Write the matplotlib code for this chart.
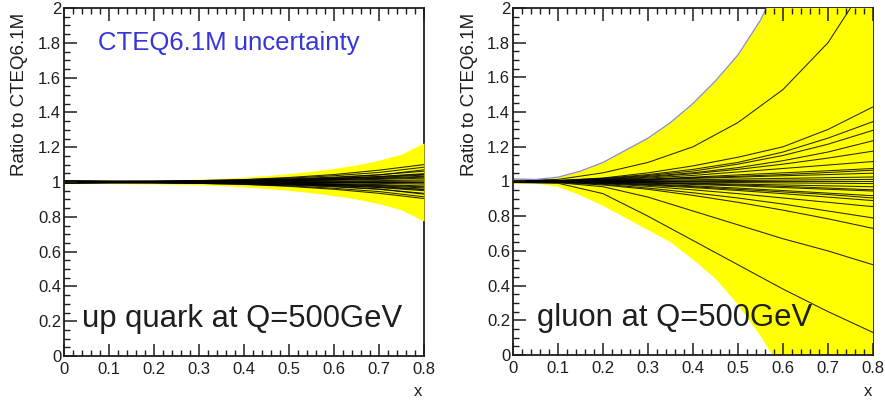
import numpy as np
import matplotlib.pyplot as plt
from matplotlib.ticker import MultipleLocator

plt.rcParams['font.family'] = ['Liberation Sans', 'DejaVu Sans']

# envelope grid (fine) and member-curve grid (coarse)
x_env = [0.0, 0.05, 0.1, 0.15, 0.2, 0.25, 0.3, 0.35, 0.4,
         0.45, 0.5, 0.55, 0.6, 0.65, 0.7, 0.75, 0.8]
x_set = [0.0, 0.1, 0.2, 0.3, 0.4, 0.5, 0.6, 0.7, 0.8]

# up quark, Q=500 GeV
up_hi = [1.010, 1.009, 1.009, 1.010, 1.011, 1.013, 1.016, 1.021, 1.028,
         1.037, 1.048, 1.062, 1.078, 1.098, 1.125, 1.160, 1.225]
up_lo = [0.990, 0.991, 0.991, 0.990, 0.989, 0.987, 0.984, 0.979, 0.972,
         0.963, 0.952, 0.938, 0.922, 0.902, 0.875, 0.840, 0.775]
up_sets = [
    [1.006, 1.004, 1.005, 1.008, 1.013, 1.022, 1.036, 1.055, 1.085],
    [0.994, 0.996, 0.995, 0.992, 0.987, 0.978, 0.964, 0.945, 0.915],
    [1.005, 1.004, 1.004, 1.006, 1.010, 1.018, 1.028, 1.042, 1.062],
    [0.995, 0.996, 0.996, 0.994, 0.990, 0.982, 0.972, 0.958, 0.935],
    [1.004, 1.003, 1.003, 1.005, 1.007, 1.012, 1.020, 1.032, 1.048],
    [0.996, 0.997, 0.997, 0.995, 0.993, 0.988, 0.980, 0.968, 0.950],
    [1.003, 1.002, 1.002, 1.003, 1.005, 1.009, 1.014, 1.022, 1.033],
    [0.997, 0.998, 0.998, 0.997, 0.995, 0.991, 0.986, 0.978, 0.966],
    [1.002, 1.002, 1.002, 1.002, 1.003, 1.006, 1.010, 1.015, 1.022],
    [0.998, 0.998, 0.998, 0.998, 0.997, 0.994, 0.990, 0.985, 0.977],
    [1.001, 1.001, 1.001, 1.001, 1.002, 1.003, 1.005, 1.008, 1.012],
    [0.999, 0.999, 0.999, 0.999, 0.998, 0.997, 0.995, 0.992, 0.988],
    [1.001, 1.000, 1.000, 1.000, 1.001, 1.001, 1.002, 1.003, 1.005],
    [0.999, 1.000, 1.000, 1.000, 0.999, 0.999, 0.998, 0.997, 0.995],
    [1.000, 1.000, 1.000, 1.000, 1.000, 1.000, 1.000, 1.000, 1.000],
    [1.005, 1.003, 1.003, 1.005, 1.009, 1.015, 1.025, 1.040, 1.070],
    [0.995, 0.997, 0.997, 0.995, 0.991, 0.985, 0.975, 0.960, 0.930],
    [1.004, 1.003, 1.002, 1.004, 1.006, 1.011, 1.018, 1.026, 1.040],
    [0.996, 0.997, 0.998, 0.996, 0.994, 0.989, 0.983, 0.974, 0.958],
    [1.002, 1.001, 1.001, 1.002, 1.004, 1.008, 1.013, 1.019, 1.028],
    [0.998, 0.999, 0.999, 0.998, 0.996, 0.992, 0.987, 0.981, 0.972],
    [1.007, 1.005, 1.005, 1.008, 1.014, 1.026, 1.043, 1.068, 1.100],
    [0.993, 0.995, 0.995, 0.992, 0.986, 0.975, 0.958, 0.935, 0.905],
    [1.003, 1.002, 1.003, 1.004, 1.008, 1.013, 1.021, 1.030, 1.044],
    [0.997, 0.998, 0.997, 0.996, 0.992, 0.987, 0.979, 0.970, 0.956],
]

# gluon, Q=500 GeV
gl_hi = [1.015, 1.012, 1.025, 1.060, 1.110, 1.180, 1.250, 1.340, 1.450,
         1.580, 1.730, 1.930, 2.200, 2.500, 2.850, 3.250, 3.700]
gl_lo = [0.985, 0.988, 0.970, 0.920, 0.860, 0.790, 0.720, 0.650, 0.550,
         0.440, 0.290, 0.110, -0.100, -0.300, -0.500, -0.700, -0.900]
gl_sets = [
    [1.006, 1.012, 1.050, 1.110, 1.200, 1.340, 1.530, 1.800, 2.200],
    [1.005, 1.006, 1.020, 1.050, 1.090, 1.140, 1.200, 1.300, 1.430],
    [1.004, 1.005, 1.018, 1.040, 1.070, 1.110, 1.170, 1.250, 1.345],
    [1.004, 1.004, 1.015, 1.035, 1.060, 1.100, 1.150, 1.215, 1.295],
    [1.003, 1.004, 1.012, 1.030, 1.050, 1.080, 1.120, 1.170, 1.235],
    [1.003, 1.003, 1.010, 1.025, 1.045, 1.070, 1.100, 1.135, 1.175],
    [1.002, 1.003, 1.008, 1.020, 1.035, 1.055, 1.075, 1.095, 1.115],
    [1.002, 1.002, 1.006, 1.014, 1.025, 1.038, 1.050, 1.062, 1.075],
    [1.001, 1.002, 1.004, 1.010, 1.018, 1.025, 1.033, 1.040, 1.048],
    [1.001, 1.001, 1.003, 1.006, 1.010, 1.014, 1.018, 1.022, 1.026],
    [1.000, 1.001, 1.001, 1.002, 1.004, 1.006, 1.008, 1.010, 1.012],
    [1.000, 1.000, 1.000, 1.000, 1.000, 1.000, 1.000, 1.000, 1.000],
    [1.000, 0.999, 0.999, 0.998, 0.996, 0.994, 0.992, 0.990, 0.988],
    [0.999, 0.999, 0.997, 0.994, 0.990, 0.985, 0.980, 0.975, 0.970],
    [0.999, 0.998, 0.995, 0.990, 0.983, 0.975, 0.965, 0.955, 0.945],
    [0.998, 0.998, 0.993, 0.985, 0.975, 0.962, 0.948, 0.933, 0.918],
    [0.998, 0.997, 0.990, 0.978, 0.965, 0.948, 0.930, 0.910, 0.890],
    [0.997, 0.997, 0.988, 0.972, 0.952, 0.930, 0.905, 0.880, 0.855],
    [0.996, 0.996, 0.984, 0.962, 0.935, 0.905, 0.870, 0.830, 0.790],
    [0.996, 0.995, 0.980, 0.955, 0.920, 0.880, 0.835, 0.785, 0.730],
    [0.995, 0.993, 0.970, 0.910, 0.830, 0.750, 0.670, 0.600, 0.520],
    [0.994, 0.990, 0.930, 0.800, 0.660, 0.520, 0.380, 0.250, 0.130],
    [1.002, 1.002, 1.005, 1.012, 1.022, 1.030, 1.040, 1.052, 1.065],
    [0.998, 0.998, 0.996, 0.992, 0.987, 0.980, 0.972, 0.962, 0.952],
    [0.997, 0.996, 0.992, 0.982, 0.970, 0.955, 0.940, 0.925, 0.905],
]

x_ticks = [0.0, 0.1, 0.2, 0.3, 0.4, 0.5, 0.6, 0.7, 0.8]
x_labels = ['0', '0.1', '0.2', '0.3', '0.4', '0.5', '0.6', '0.7', '0.8']
y_ticks = [0.0, 0.2, 0.4, 0.6, 0.8, 1.0, 1.2, 1.4, 1.6, 1.8, 2.0]
y_labels = ['0', '0.2', '0.4', '0.6', '0.8', '1', '1.2', '1.4', '1.6', '1.8', '2']

ink = '#1e1e1e'
band = '#ffff00'

fig = plt.figure(figsize=(8.85, 4.0), dpi=100)
ax1 = fig.add_axes([64 / 885, 1 - 356 / 400, 360 / 885, 348 / 400])
ax2 = fig.add_axes([513 / 885, 1 - 355 / 400, 360 / 885, 347 / 400])


def draw_panel(ax, hi, lo, sets, label, xt, edge=None):
    ax.fill_between(x_env, lo, hi, color=band, lw=0, zorder=1.2)
    for s in sets:
        ax.plot(x_set, s, color='black', lw=0.75, alpha=0.85, zorder=1.3)
    if edge is not None:
        ax.plot(x_env, hi, color=edge, lw=0.9, zorder=1.35)
    ax.set_xlim(0, 0.8)
    ax.set_ylim(0, 2)
    ax.set_xticks(x_ticks)
    ax.set_xticklabels(x_labels)
    ax.set_yticks(y_ticks)
    ax.set_yticklabels(y_labels)
    ax.xaxis.set_minor_locator(MultipleLocator(0.02))
    ax.yaxis.set_minor_locator(MultipleLocator(0.05))
    ax.tick_params(which='both', direction='in', top=True, right=False,
                   colors=ink, labelsize=12)
    ax.tick_params(which='major', length=9, width=1.1, pad=2)
    ax.tick_params(which='minor', length=4.5, width=1.0)
    ax.tick_params(axis='x', which='major', pad=4)
    for side in ['top', 'right']:
        ax.spines[side].set_zorder(1.1)
    for sp in ax.spines.values():
        sp.set_color(ink)
        sp.set_linewidth(1.3)
    ax.text(xt, 0.165, label, fontsize=22.3, color=ink,
            va='baseline', ha='left', zorder=5)


draw_panel(ax1, up_hi, up_lo, up_sets, 'up quark at Q=500GeV', 0.04)
draw_panel(ax2, gl_hi, gl_lo, gl_sets, 'gluon at Q=500GeV', 0.053,
           edge='#8a8ae0')

ax1.text(0.076, 1.76, 'CTEQ6.1M uncertainty', fontsize=18.5,
         color='#3535d8', va='baseline', ha='left')

for xpos in [20 / 885, 470 / 885]:
    fig.text(xpos, 1 - 13 / 400, 'Ratio to CTEQ6.1M', rotation=90,
             fontsize=13.5, color=ink, ha='center', va='top')
for xpos in [418 / 885, 868 / 885]:
    fig.text(xpos, 1 - 392 / 400, 'x', fontsize=12, color=ink,
             ha='center', va='center')

fig.savefig('out.png', dpi=100, facecolor='white')
